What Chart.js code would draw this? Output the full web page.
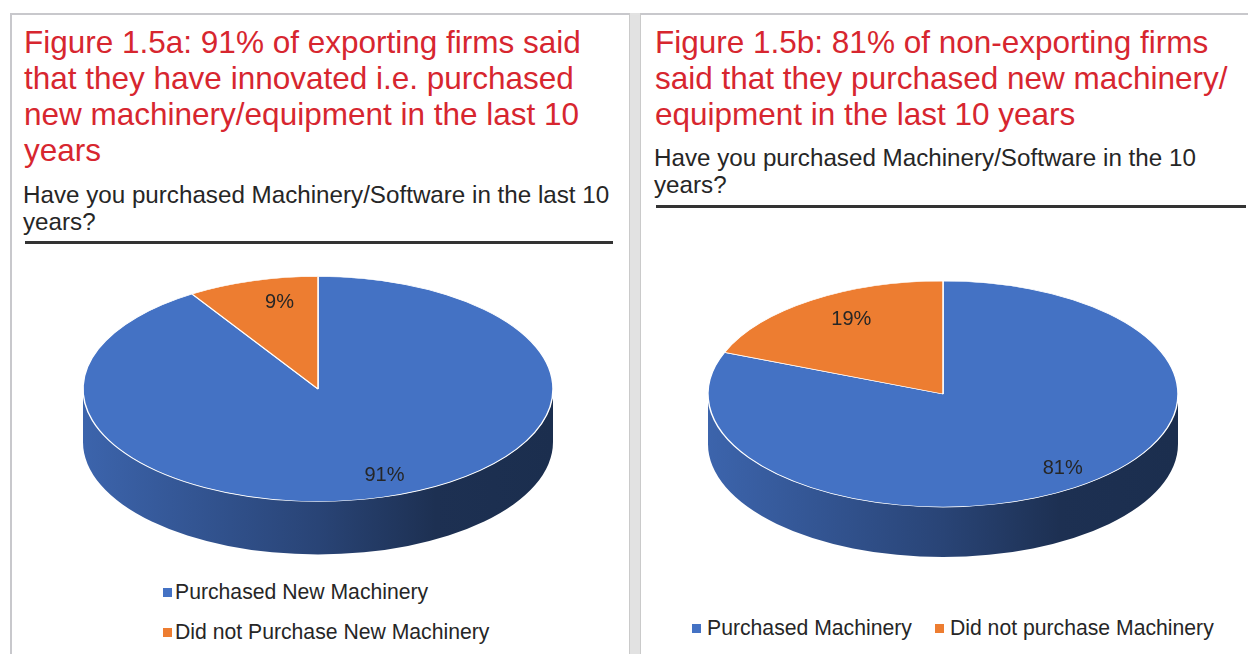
<!DOCTYPE html>
<html>
<head>
<meta charset="utf-8">
<script src="https://cdn.jsdelivr.net/npm/chart.js@4.4.1/dist/chart.umd.min.js"></script>
<style>
  html, body { margin: 0; padding: 0; background: #fff; }
  body { width: 1248px; height: 654px; position: relative; overflow: hidden; font-family: "Liberation Sans", Arial, sans-serif; }
  .frame-top { position: absolute; left: 10px; top: 13px; width: 1238px; height: 2px; background: #c8c8cc; }
  .frame-left { position: absolute; left: 10px; top: 13px; width: 2px; height: 641px; background: #c8c8cc; }
  .divider { position: absolute; left: 629px; top: 13px; width: 10px; height: 641px; background: #e2e2e2; border-left: 1px solid #cacaca; border-right: 1px solid #cacaca; }
  .title { position: absolute; color: #d7262f; font-size: 31.5px; line-height: 36px; white-space: nowrap; }
  .sub { position: absolute; color: #262626; font-size: 24.2px; line-height: 27px; white-space: nowrap; }
  .rule { position: absolute; height: 2.5px; background: #333; }
  canvas { position: absolute; }
  .legend { position: absolute; color: #262626; font-size: 21.2px; line-height: 24px; white-space: nowrap; }
  .legend .item { display: flex; align-items: center; }
  .legend .box { width: 9px; height: 9px; margin-right: 3px; }
  #legendA .item { margin-bottom: 16px; }
  #legendB { display: flex; }
  #legendB .item { margin-right: 23px; }
  #legendB .box { margin-right: 6px; }
</style>
</head>
<body>
<div class="frame-top"></div>
<div class="frame-left"></div>
<div class="divider"></div>

<div class="title" style="left:24px; top:24px;">Figure 1.5a: 91% of exporting firms said<br>that they have innovated i.e. purchased<br>new machinery/equipment in the last 10<br>years</div>
<div class="sub" style="left:23px; top:181px;">Have you purchased Machinery/Software in the last 10<br>years?</div>
<div class="rule" style="left:25px; top:241px; width:588px;"></div>

<div class="title" style="left:655px; top:24px;">Figure 1.5b: 81% of non-exporting firms<br>said that they purchased new machinery/<br>equipment in the last 10 years</div>
<div class="sub" style="left:654px; top:144px;">Have you purchased Machinery/Software in the 10<br>years?</div>
<div class="rule" style="left:656px; top:205px; width:590px;"></div>

<canvas id="pieA" width="560" height="320" style="left:40px; top:260px;"></canvas>
<canvas id="pieB" width="560" height="320" style="left:665px; top:260px;"></canvas>

<div class="legend" id="legendA" style="left:163px; top:580px;"></div>
<div class="legend" id="legendB" style="left:692px; top:616px;"></div>

<script>
// Figure 1.5a - exporting firms
const labelsA = ['Purchased New Machinery', 'Did not Purchase New Machinery'];
const valuesA = [91, 9];

// Figure 1.5b - non-exporting firms
const labelsB = ['Purchased Machinery', 'Did not purchase Machinery'];
const valuesB = [81, 19];

const colors = ['#4472c4', '#ed7d31'];

// darken a hex colour by factor f
function shade(hex, f) {
  const n = parseInt(hex.slice(1), 16);
  const r = Math.round(((n >> 16) & 255) * f);
  const g = Math.round(((n >> 8) & 255) * f);
  const b = Math.round((n & 255) * f);
  return `rgb(${r},${g},${b})`;
}

// Fake 3D pie: squash the arcs into an ellipse and draw a side wall under the front half
const pie3d = {
  id: 'pie3d',
  beforeDatasetsDraw(chart, args, o) {
    const ctx = chart.ctx;
    const arcs = chart.getDatasetMeta(0).data;
    const R = arcs[0].outerRadius;

    arcs.forEach(arc => {
      const col = arc.options.backgroundColor;
      for (let k = -1; k <= 1; k++) {
        const s = Math.max(arc.startAngle + 2 * Math.PI * k, 0);
        const e = Math.min(arc.endAngle + 2 * Math.PI * k, Math.PI);
        if (e <= s) continue;
        const g = ctx.createLinearGradient(o.cx - o.rx, 0, o.cx + o.rx, 0);
        g.addColorStop(0, shade(col, 0.88));
        g.addColorStop(0.5, shade(col, 0.6));
        g.addColorStop(0.75, shade(col, 0.42));
        g.addColorStop(1, shade(col, 0.4));
        ctx.beginPath();
        ctx.ellipse(o.cx, o.cy, o.rx, o.ry, 0, s, e);
        ctx.ellipse(o.cx, o.cy + o.depth, o.rx, o.ry, 0, e, s, true);
        ctx.closePath();
        ctx.fillStyle = g;
        ctx.fill();
      }
    });

    ctx.save();
    ctx.translate(o.cx, o.cy);
    ctx.scale(o.rx / R, o.ry / R);
    ctx.translate(-arcs[0].x, -arcs[0].y);
  },
  afterDatasetsDraw(chart, args, o) {
    const ctx = chart.ctx;
    ctx.restore();
    const arcs = chart.getDatasetMeta(0).data;
    const vals = chart.data.datasets[0].data;
    ctx.save();
    ctx.font = '20px "Liberation Sans", Arial, sans-serif';
    ctx.fillStyle = '#262626';
    ctx.textAlign = 'center';
    ctx.textBaseline = 'middle';
    arcs.forEach((arc, i) => {
      const m = (arc.startAngle + arc.endAngle) / 2;
      const x = o.cx + o.rx * o.lf * Math.cos(m) + o.ldx;
      const y = o.cy + o.ry * o.lf * Math.sin(m);
      ctx.fillText(vals[i] + '%', x, y);
    });
    ctx.restore();
  }
};

function makePie(id, labels, values, geo) {
  const el = document.getElementById(id);
  if (!el) {
    console.error('Canvas not found: ' + id);
    return;
  }
  new Chart(el.getContext('2d'), {
    type: 'pie',
    data: {
      labels: labels,
      datasets: [{
        data: values,
        backgroundColor: colors,
        borderColor: '#ffffff',
        borderWidth: 1
      }]
    },
    options: {
      responsive: false,
      animation: false,
      events: [],
      plugins: {
        legend: { display: false },
        tooltip: { enabled: false },
        pie3d: geo
      }
    },
    plugins: [pie3d]
  });
}

function makeLegend(id, labels) {
  const box = document.getElementById(id);
  labels.forEach((text, i) => {
    const item = document.createElement('div');
    item.className = 'item';
    item.innerHTML = `<span class="box" style="background:${colors[i]}"></span><span>${text}</span>`;
    box.appendChild(item);
  });
}

makePie('pieA', labelsA, valuesA, { cx: 278, cy: 129, rx: 235, ry: 112.5, depth: 53, lf: 0.8, ldx: 14 });
makePie('pieB', labelsB, valuesB, { cx: 278, cy: 134, rx: 235, ry: 113, depth: 50, lf: 0.8, ldx: 14 });
makeLegend('legendA', labelsA);
makeLegend('legendB', labelsB);
</script>
</body>
</html>
